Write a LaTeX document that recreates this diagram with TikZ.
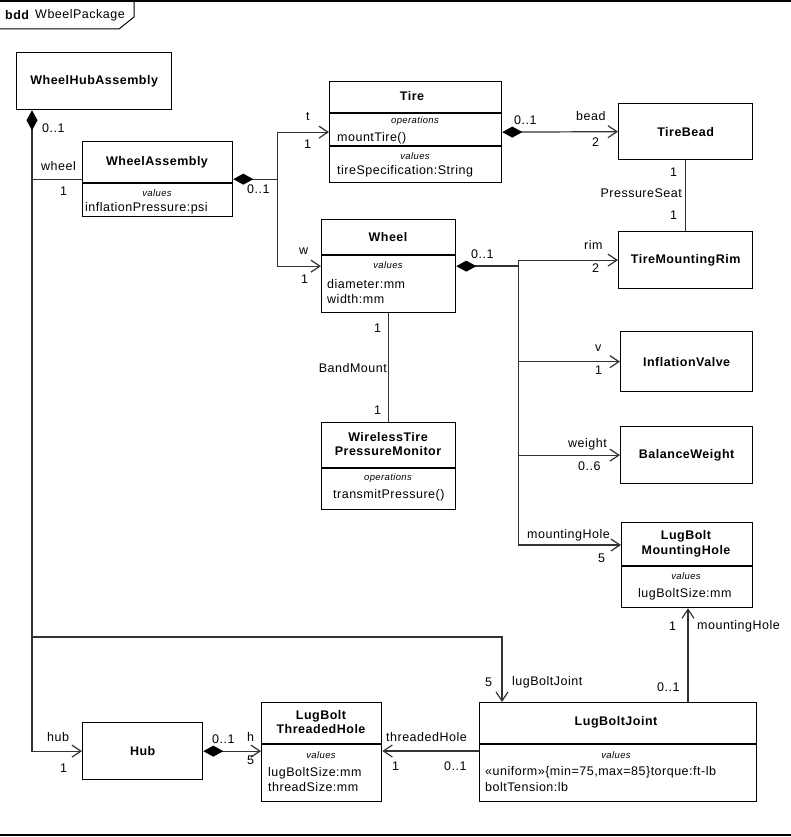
\documentclass[tikz,border=0pt]{standalone}
\usepackage{fontspec}
\setmainfont{Liberation Sans}[LetterSpace=4]
\usetikzlibrary{arrows.meta,calc}
\begin{document}
\begin{tikzpicture}[x=1pt,y=-1pt,
  box/.style={draw,line width=1.3pt,anchor=north west,inner sep=0pt},
  ttl/.style={font=\fontsize{12.5}{14.5}\selectfont\bfseries,align=center,inner sep=0pt},
  txt/.style={font=\fontsize{12.5}{14}\selectfont,inner sep=0pt},
  lbl/.style={txt,anchor=west},
  sm/.style={font=\fontsize{9.5}{11}\selectfont\itshape,inner sep=0pt},
  sepl/.style={line width=1.1pt},
  conn/.style={line width=1.2pt,draw=black!80},
  nav/.style={conn,-{Straight Barb[length=9pt,width=12pt,line width=1.2pt]}},
  cmp/.style={conn,{Diamond[length=20pt,width=11pt,black]}-},
  cmpnav/.style={conn,{Diamond[length=20pt,width=11pt,black]}-{Straight Barb[length=9pt,width=12pt,line width=1.2pt]}}
]
\useasboundingbox (0,0) rectangle (791,837);
% frame
\draw[line width=1.3pt] (0,1) -- (791,1);
\draw[line width=1.3pt] (0,835) -- (791,835);
\draw[line width=1pt] (0,29) -- (119,29) -- (134,17) -- (134,1);
\node[anchor=west,inner sep=0pt,font=\fontsize{12.5}{14}\selectfont\bfseries] (fk) at (5,15) {bdd};
\node[anchor=west,inner sep=0pt,font=\fontsize{12.5}{14}\selectfont] (fn) at (35,15) {WbeelPackage};

% boxes
\node[box,ttl,minimum width=155pt,minimum height=57pt] (wha) at (16,52) {WheelHubAssembly};
\node[box,minimum width=150pt,minimum height=75pt] (wa) at (82,141) {};
\node[box,minimum width=172pt,minimum height=101pt] (tire) at (329,81) {};
\node[box,ttl,minimum width=134pt,minimum height=56pt] (tb) at (618,103) {TireBead};
\node[box,ttl,minimum width=134pt,minimum height=57pt] (tmr) at (618,231) {TireMountingRim};
\node[box,minimum width=134pt,minimum height=93pt] (wheel) at (321,219) {};
\node[box,minimum width=134pt,minimum height=87pt] (wtpm) at (321,422) {};
\node[box,ttl,minimum width=132pt,minimum height=60pt] (iv) at (620,331) {InflationValve};
\node[box,ttl,minimum width=132pt,minimum height=57pt] (bw) at (620,426) {BalanceWeight};
\node[box,minimum width=131pt,minimum height=85pt] (lbmh) at (621,522) {};
\node[box,ttl,minimum width=120pt,minimum height=57pt] (hub) at (82,722) {Hub};
\node[box,minimum width=120pt,minimum height=99pt] (lbth) at (261,702) {};
\node[box,minimum width=277pt,minimum height=99pt] (lbj) at (479,702) {};

% compartments
\draw[sepl] (wa.west |- 0,183) -- (wa.east |- 0,183);
\draw[sepl] (tire.west |- 0,113) -- (tire.east |- 0,113);
\draw[sepl] (tire.west |- 0,146) -- (tire.east |- 0,146);
\draw[sepl] (wheel.west |- 0,255) -- (wheel.east |- 0,255);
\draw[sepl] (wtpm.west |- 0,468) -- (wtpm.east |- 0,468);
\draw[sepl] (lbmh.west |- 0,566) -- (lbmh.east |- 0,566);
\draw[sepl] (lbth.west |- 0,744) -- (lbth.east |- 0,744);
\draw[sepl] (lbj.west |- 0,744) -- (lbj.east |- 0,744);

% box texts
\node[ttl] (waT) at (157,162) {WheelAssembly};
\node[sm] (waV) at (157,193) {values};
\node[lbl] (waA) at (85,208) {inflationPressure:psi};

\node[ttl] (tireT) at (412,96) {Tire};
\node[sm] (tireO) at (415,121) {operations};
\node[lbl] (tireA) at (337,138) {mountTire()};
\node[sm] (tireV) at (415,156) {values};
\node[lbl] (tireB) at (337,171) {tireSpecification:String};

\node[ttl] (wheelT) at (388,237) {Wheel};
\node[sm] (wheelV) at (388,265) {values};
\node[lbl] (wheelA) at (327,284) {diameter:mm};
\node[lbl] (wheelB) at (327,299) {width:mm};

\node[ttl] (wtpmT) at (388,444) {WirelessTire\\PressureMonitor};
\node[sm] (wtpmO) at (388,478) {operations};
\node[lbl] (wtpmA) at (333,495) {transmitPressure()};

\node[ttl] (lbmhT) at (686,544) {LugBolt\\MountingHole};
\node[sm] (lbmhV) at (686,576) {values};
\node[lbl] (lbmhA) at (638,594) {lugBoltSize:mm};

\node[ttl] (lbthT) at (321,722) {LugBolt\\ThreadedHole};
\node[sm] (lbthV) at (321,755) {values};
\node[lbl] (lbthA) at (268,773) {lugBoltSize:mm};
\node[lbl] (lbthB) at (268,787) {threadSize:mm};

\node[ttl] (lbjT) at (616,722) {LugBoltJoint};
\node[sm] (lbjV) at (616,755) {values};
\node[lbl] (lbjA) at (485,772) {«uniform»\{min=75,max=85\}torque:ft-lb};
\node[lbl] (lbjB) at (485,787) {boltTension:lb};

% connectors
\coordinate (trunk) at ($(wha.south west)+(16,0)$);
\draw[cmpnav] (trunk) -- (trunk |- hub.west) -- (hub.west);
\draw[conn] (trunk |- wa.west) -- (wa.west);
\coordinate (lbjtop) at ($(lbj.north west)+(23,0)$);
\draw[nav] (trunk |- 0,637) -- (lbjtop |- 0,637) -- (lbjtop);

\coordinate (waj) at ($(wa.east)+(44,0)$);
\draw[cmp] (wa.east) -- (waj);
\draw[nav] (waj) -- (waj |- tire.west) -- (tire.west);
\draw[nav] (waj) -- (waj |- wheel.west) -- (wheel.west);

\draw[cmpnav] (tire.east) -- (tb.west);
\draw[conn] (tb.south) -- (tmr.north);

\coordinate (wj) at ($(wheel.east)+(62,0)$);
\coordinate (mhin) at ($(lbmh.north west)+(0,23)$);
\draw[cmp,line width=1.6pt] (wheel.east) -- (wj);
\draw[conn,line width=1.5pt] (wj |- tmr.west) -- (wj |- mhin);
\draw[nav] (wj |- tmr.west) -- (tmr.west);
\draw[nav] (wj |- iv.west) -- (iv.west);
\draw[nav] (wj |- bw.west) -- (bw.west);
\draw[nav] (wj |- mhin) -- (mhin);

\draw[conn] (wheel.south) -- (wtpm.north);

\coordinate (lbjmh) at ($(lbj.north west)+(209,0)$);
\draw[nav] (lbjmh) -- (lbjmh |- lbmh.south);
\coordinate (lbjth) at ($(lbj.north west)+(0,49)$);
\draw[nav] (lbjth) -- (lbjth -| lbth.east);
\draw[cmpnav] (hub.east) -- (hub.east -| lbth.west);

% connector labels
\node[lbl] (l1) at (42,128) {0..1};
\node[lbl] (l2) at (41,166) {wheel};
\node[lbl] (l3) at (60,191) {1};
\node[lbl] (l4) at (247,189) {0..1};
\node[lbl] (l5) at (306,117) {t};
\node[lbl] (l6) at (304,144) {1};
\node[lbl] (l7) at (299,251) {w};
\node[lbl] (l8) at (301,279) {1};
\node[lbl] (l9) at (514,120) {0..1};
\node[lbl] (l10) at (576,116) {bead};
\node[lbl] (l11) at (592,142) {2};
\node[lbl] (l12) at (670,172) {1};
\node[txt,anchor=east] (l13) at (682,193) {PressureSeat};
\node[lbl] (l14) at (670,215) {1};
\node[lbl] (l15) at (471,254) {0..1};
\node[lbl] (l16) at (584,245) {rim};
\node[lbl] (l17) at (592,268) {2};
\node[lbl] (l18) at (595,348) {v};
\node[lbl] (l19) at (595,370) {1};
\node[lbl] (l20) at (568,444) {weight};
\node[lbl] (l21) at (578,466) {0..6};
\node[lbl] (l22) at (527,535) {mountingHole};
\node[lbl] (l23) at (598,558) {5};
\node[lbl] (l24) at (374,328) {1};
\node[txt,anchor=east] (l25) at (387,368) {BandMount};
\node[lbl] (l26) at (374,410) {1};
\node[lbl] (l27) at (669,626) {1};
\node[lbl] (l28) at (697,626) {mountingHole};
\node[lbl] (l29) at (485,682) {5};
\node[lbl] (l30) at (512,682) {lugBoltJoint};
\node[lbl] (l31) at (657,687) {0..1};
\node[lbl] (l32) at (47,737) {hub};
\node[lbl] (l33) at (60,768) {1};
\node[lbl] (l34) at (212,739) {0..1};
\node[lbl] (l35) at (247,737) {h};
\node[lbl] (l36) at (247,760) {5};
\node[lbl] (l37) at (386,737) {threadedHole};
\node[lbl] (l38) at (392,766) {1};
\node[lbl] (l39) at (444,766) {0..1};
\end{tikzpicture}
\end{document}
